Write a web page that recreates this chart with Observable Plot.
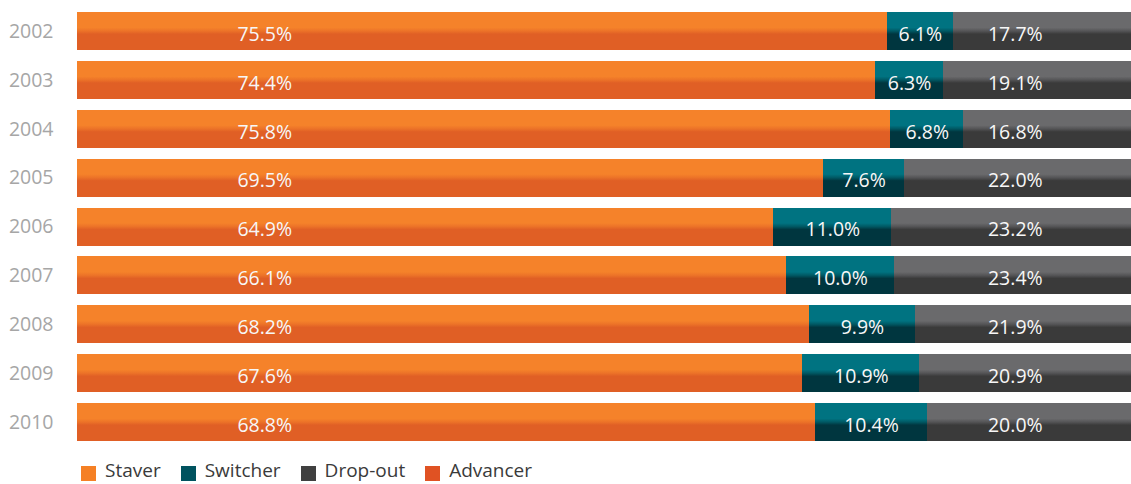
<!DOCTYPE html>
<html><head><meta charset="utf-8">
<script src="https://cdn.jsdelivr.net/npm/d3@7"></script>
<script src="https://cdn.jsdelivr.net/npm/@observablehq/plot@0.6"></script>
<style>
html,body{margin:0;padding:0;background:#fff;overflow:hidden;}
#wrap{position:relative;width:1131px;height:484px;overflow:hidden;}
#legend{position:absolute;left:81px;top:460px;display:flex;align-items:flex-start;font-family:"Open Sans",sans-serif;font-size:19px;line-height:20px;color:#3a3a3a;white-space:nowrap;}
.item{display:flex;align-items:flex-start;margin-right:20px}
.sw{width:15px;height:15px;margin-top:6px;margin-right:9px}
</style></head><body>
<div id="wrap"><div id="chart"></div><div id="legend"></div></div>
<script>
const years = ["2002","2003","2004","2005","2006","2007","2008","2009","2010"];
const staver = [75.5,74.4,75.8,69.5,64.9,66.1,68.2,67.6,68.8];
const switcher = [6.1,6.3,6.8,7.6,11.0,10.0,9.9,10.9,10.4];
const dropout = [17.7,19.1,16.8,22.0,23.2,23.4,21.9,20.9,20.0];
const categories = ["Staver","Switcher","Drop-out"];
const legendLabels = ["Staver","Switcher","Drop-out","Advancer"];
const legendColors = ["#F58025","#00535F","#404040","#E05223"];
const lightColors = ["#F5822A","#007381","#6A6A6C"];
const darkColors = ["#E05F25","#00363F","#3A3A3A"];

const series = [staver, switcher, dropout];
const rows = years.flatMap((y, i) => categories.map((c, k) => ({year: y, cat: c, k, value: series[k][i]})));
const fmt = v => v.toFixed(1) + "%";

const chart = Plot.plot({
  width: 1131, height: 456,
  marginLeft: 77, marginRight: 0, marginTop: 6.6, marginBottom: 9.5,
  x: {domain: [0, 100], range: [77, 1150], axis: null},
  y: {domain: years, range: [6.6, 446.5], round: false, paddingInner: 0.222, paddingOuter: 0.111, label: null, tickSize: 0, tickPadding: 24},
  color: {type: "identity"},
  style: {fontFamily: "'Open Sans', sans-serif", fontSize: "19.5px", color: "#a6a6a6", background: "transparent", overflow: "hidden"},
  marks: [
    Plot.barX(rows, Plot.stackX({x: "value", y: "year", z: "cat", fill: d => `url(#grad${d.k})`, shapeRendering: "crispEdges"})),
    Plot.text(years, {x: 20, y: d => d, text: (d, i) => fmt(staver[i]), textAnchor: "end", fill: "#f7f7f7", dy: 3}),
    Plot.text(years, {x: (d, i) => staver[i] + switcher[i] / 2, y: d => d, text: (d, i) => fmt(switcher[i]), fill: "#f7f7f7", dy: 3}),
    Plot.text(years, {x: 87.4, y: d => d, text: (d, i) => fmt(dropout[i]), fill: "#f7f7f7", dy: 3})
  ]
});

const ns = "http://www.w3.org/2000/svg";
const defs = document.createElementNS(ns, "defs");
categories.forEach((c, k) => {
  const g = document.createElementNS(ns, "linearGradient");
  g.setAttribute("id", "grad" + k);
  g.setAttribute("x1", "0"); g.setAttribute("y1", "0");
  g.setAttribute("x2", "0"); g.setAttribute("y2", "1");
  const mid = d3.interpolateRgb(lightColors[k], darkColors[k])(0.45);
  [[0, lightColors[k]], [0.41, lightColors[k]], [0.5, mid], [0.58, darkColors[k]], [1, darkColors[k]]].forEach(([o, col]) => {
    const s = document.createElementNS(ns, "stop");
    s.setAttribute("offset", o);
    s.setAttribute("stop-color", col);
    g.appendChild(s);
  });
  defs.appendChild(g);
});
chart.prepend(defs);
document.getElementById("chart").appendChild(chart);

const legend = document.getElementById("legend");
legendLabels.forEach((l, i) => {
  const item = document.createElement("div");
  item.className = "item";
  const sw = document.createElement("div");
  sw.className = "sw";
  sw.style.background = legendColors[i];
  const t = document.createElement("span");
  t.textContent = l;
  item.appendChild(sw); item.appendChild(t);
  legend.appendChild(item);
});
</script>
</body></html>
